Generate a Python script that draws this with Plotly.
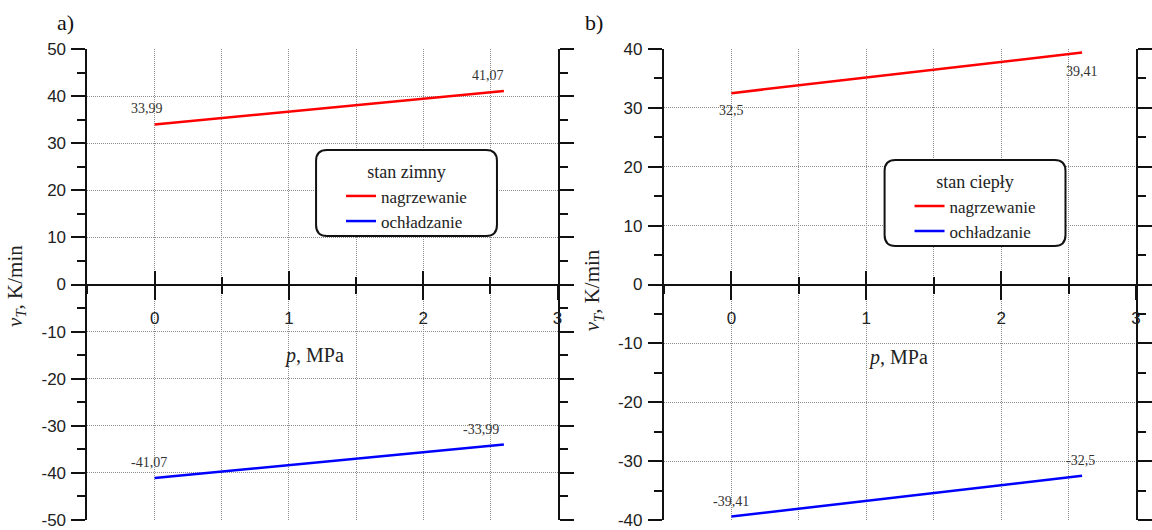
import plotly.graph_objects as go

# ---- data -------------------------------------------------------------
p_mpa = [0.0, 2.6]

# panel a) - stan zimny
cold_heat = [33.99, 41.07]
cold_cool = [-41.07, -33.99]

# panel b) - stan ciepły
warm_heat = [32.5, 39.41]
warm_cool = [-39.41, -32.5]

x_ticks = [0, 1, 2, 3]
x_ticktext = ["0", "1", "2", "3"]
ya_ticks = [50, 40, 30, 20, 10, 0, -10, -20, -30, -40, -50]
yb_ticks = [40, 30, 20, 10, 0, -10, -20, -30, -40]

series_names = ["nagrzewanie", "ochładzanie"]
legend_titles = ["stan zimny", "stan ciepły"]
panel_tags = ["a)", "b)"]

RED = "#ff0000"
BLUE = "#0000ff"

# ---- page geometry (pixels) ----------------------------------------
W, H = 1152, 530
TOP, BOT = 49, 520


def fx(px):
    return px / W


def fy(py):
    return (BOT - py) / (BOT - TOP)


SANS = "Liberation Sans, Arial, sans-serif"
SERIF = "Liberation Serif, Times New Roman, serif"
GRID = "#8c8c8c"
GRID_DASH = "1px,1px"


def num(v):
    return f"{v:g}".replace(".", ",")


def tick_labels(vals):
    return [str(v) for v in vals]


fig = go.Figure()

panels = [
    dict(xa="x", ya="y", leg="legend", heat=cold_heat, cool=cold_cool),
    dict(xa="x2", ya="y2", leg="legend2", heat=warm_heat, cool=warm_cool),
]

for pn in panels:
    fig.add_trace(go.Scatter(x=p_mpa, y=pn["heat"], mode="lines", name=series_names[0],
                             line=dict(color=RED, width=2.5),
                             xaxis=pn["xa"], yaxis=pn["ya"], legend=pn["leg"]))
    fig.add_trace(go.Scatter(x=p_mpa, y=pn["cool"], mode="lines", name=series_names[1],
                             line=dict(color=BLUE, width=2.5),
                             xaxis=pn["xa"], yaxis=pn["ya"], legend=pn["leg"]))

# empty traces holding the upward half of the crossing ticks on the zero line
fig.add_trace(go.Scatter(x=[], y=[], xaxis="x3", yaxis="y", showlegend=False, hoverinfo="skip"))
fig.add_trace(go.Scatter(x=[], y=[], xaxis="x4", yaxis="y2", showlegend=False, hoverinfo="skip"))


def x_axis(domain, **kw):
    d = dict(domain=domain, range=[-0.5, 3], anchor="free", position=0.5,
             tickvals=x_ticks, ticktext=x_ticktext,
             showline=True, linecolor="#111", linewidth=2,
             ticks="outside", ticklen=14, tickwidth=2, tickcolor="#111",
             tickfont=dict(family=SANS, size=17, color="#222"),
             ticklabelstandoff=4,
             showgrid=True, gridcolor=GRID, griddash=GRID_DASH, gridwidth=1,
             zeroline=False,
             minor=dict(dtick=0.5, tick0=0, ticks="outside", ticklen=8, tickwidth=2,
                        tickcolor="#111", showgrid=True, gridcolor=GRID,
                        griddash=GRID_DASH, gridwidth=1))
    d.update(kw)
    return d


def x_overlay(over, domain):
    return dict(domain=domain, range=[-0.5, 3], anchor="free", position=0.5,
                overlaying=over, tickvals=x_ticks, showticklabels=False,
                showline=False, showgrid=False, zeroline=False,
                ticks="inside", ticklen=14, tickwidth=2, tickcolor="#111",
                minor=dict(dtick=0.5, tick0=0, ticks="inside", ticklen=8,
                           tickwidth=2, tickcolor="#111", showgrid=False))


def y_axis(rng, ticks, anchor):
    return dict(domain=[0, 1], range=rng, anchor=anchor,
                tickvals=ticks, ticktext=tick_labels(ticks),
                showline=True, linecolor="#111", linewidth=2, mirror="ticks",
                ticks="outside", ticklen=14, tickwidth=2, tickcolor="#111",
                tickfont=dict(family=SANS, size=17, color="#222"),
                ticklabelstandoff=2,
                showgrid=True, gridcolor=GRID, griddash=GRID_DASH, gridwidth=1,
                zeroline=False,
                minor=dict(dtick=5, ticks="outside", ticklen=8, tickwidth=2,
                           tickcolor="#111", showgrid=False))


dom_a = [fx(88), fx(561)]
dom_b = [fx(668), fx(1143)]

fig.update_layout(
    width=W, height=H,
    margin=dict(l=0, r=0, t=TOP, b=H - BOT),
    paper_bgcolor="white", plot_bgcolor="white",
    showlegend=True,
    xaxis=x_axis(dom_a),
    xaxis2=x_axis(dom_b),
    xaxis3=x_overlay("x", dom_a),
    xaxis4=x_overlay("x2", dom_b),
    yaxis=y_axis([-50, 50], ya_ticks, "x"),
    yaxis2=y_axis([-40, 40], yb_ticks, "x2"),
)

# legends with rounded frames
legend_boxes = [(318, 150, 500, 236), (890, 160, 1072, 246)]


def rounded_path(l, t, r, b, rad):
    pts = [
        ("M", [(l + rad, t)]), ("L", [(r - rad, t)]), ("Q", [(r, t), (r, t + rad)]),
        ("L", [(r, b - rad)]), ("Q", [(r, b), (r - rad, b)]), ("L", [(l + rad, b)]),
        ("Q", [(l, b), (l, b - rad)]), ("L", [(l, t + rad)]), ("Q", [(l, t), (l + rad, t)]),
    ]
    out = ""
    for cmd, coords in pts:
        out += cmd + " ".join(f"{fx(a):.5f},{fy(c):.5f}" for a, c in coords) + " "
    return out + "Z"


shapes = []
for (l, t, r, b) in legend_boxes:
    shapes.append(dict(type="path", xref="paper", yref="paper",
                       path=rounded_path(l, t, r, b, 11),
                       line=dict(color="#111", width=2), fillcolor="white",
                       layer="above"))
fig.update_layout(shapes=shapes)

for key, (l, t, r, b), title in zip(["legend", "legend2"], legend_boxes, legend_titles):
    fig.update_layout({key: dict(
        x=fx((l + r) / 2), xanchor="center", y=fy(t + 5), yanchor="top",
        bgcolor="rgba(0,0,0,0)", borderwidth=0,
        title=dict(text=title, side="top center",
                   font=dict(family=SERIF, size=18, color="#222")),
        font=dict(family=SERIF, size=17, color="#222"),
        tracegroupgap=0,
    )})

# value labels at the line ends
annots = []
label_specs = [
    # (xref, yref, x, y, xshift, yshift, yanchor)
    ("x", "y", p_mpa[0], cold_heat[0], -8, 6, "bottom"),
    ("x", "y", p_mpa[1], cold_heat[1], -16, 6, "bottom"),
    ("x", "y", p_mpa[0], cold_cool[0], -6, 6, "bottom"),
    ("x", "y", p_mpa[1], cold_cool[1], -23, 6, "bottom"),
    ("x2", "y2", p_mpa[0], warm_heat[0], 0, -8, "top"),
    ("x2", "y2", p_mpa[1], warm_heat[1], 0, -10, "top"),
    ("x2", "y2", p_mpa[0], warm_cool[0], 0, 6, "bottom"),
    ("x2", "y2", p_mpa[1], warm_cool[1], -2, 6, "bottom"),
]
for xr, yr, xv, yv, xs, ys, ya in label_specs:
    annots.append(dict(xref=xr, yref=yr, x=xv, y=yv, text=num(yv), showarrow=False,
                       xanchor="center", yanchor=ya, xshift=xs, yshift=ys,
                       font=dict(family=SERIF, size=14, color="#333")))

# axis titles and panel tags
for cx, cy in [(16, 286), (597, 290)]:
    annots.append(dict(xref="paper", yref="paper", x=fx(cx), y=fy(cy),
                       text="<i>v<sub>T</sub></i>, K/min", textangle=-90, showarrow=False,
                       xanchor="center", yanchor="middle",
                       font=dict(family=SERIF, size=21, color="#222")))
for cx, cy in [(316, 355), (903, 357)]:
    annots.append(dict(xref="paper", yref="paper", x=fx(cx), y=fy(cy),
                       text="<i>p</i>, MPa", showarrow=False,
                       xanchor="center", yanchor="middle",
                       font=dict(family=SERIF, size=20, color="#222")))
for (cx, cy), tag in zip([(66, 22), (598, 22)], panel_tags):
    annots.append(dict(xref="paper", yref="paper", x=fx(cx), y=fy(cy),
                       text=tag, showarrow=False, xanchor="center", yanchor="middle",
                       font=dict(family=SERIF, size=22, color="#111")))

fig.update_layout(annotations=annots)

fig.write_html("out.html")
